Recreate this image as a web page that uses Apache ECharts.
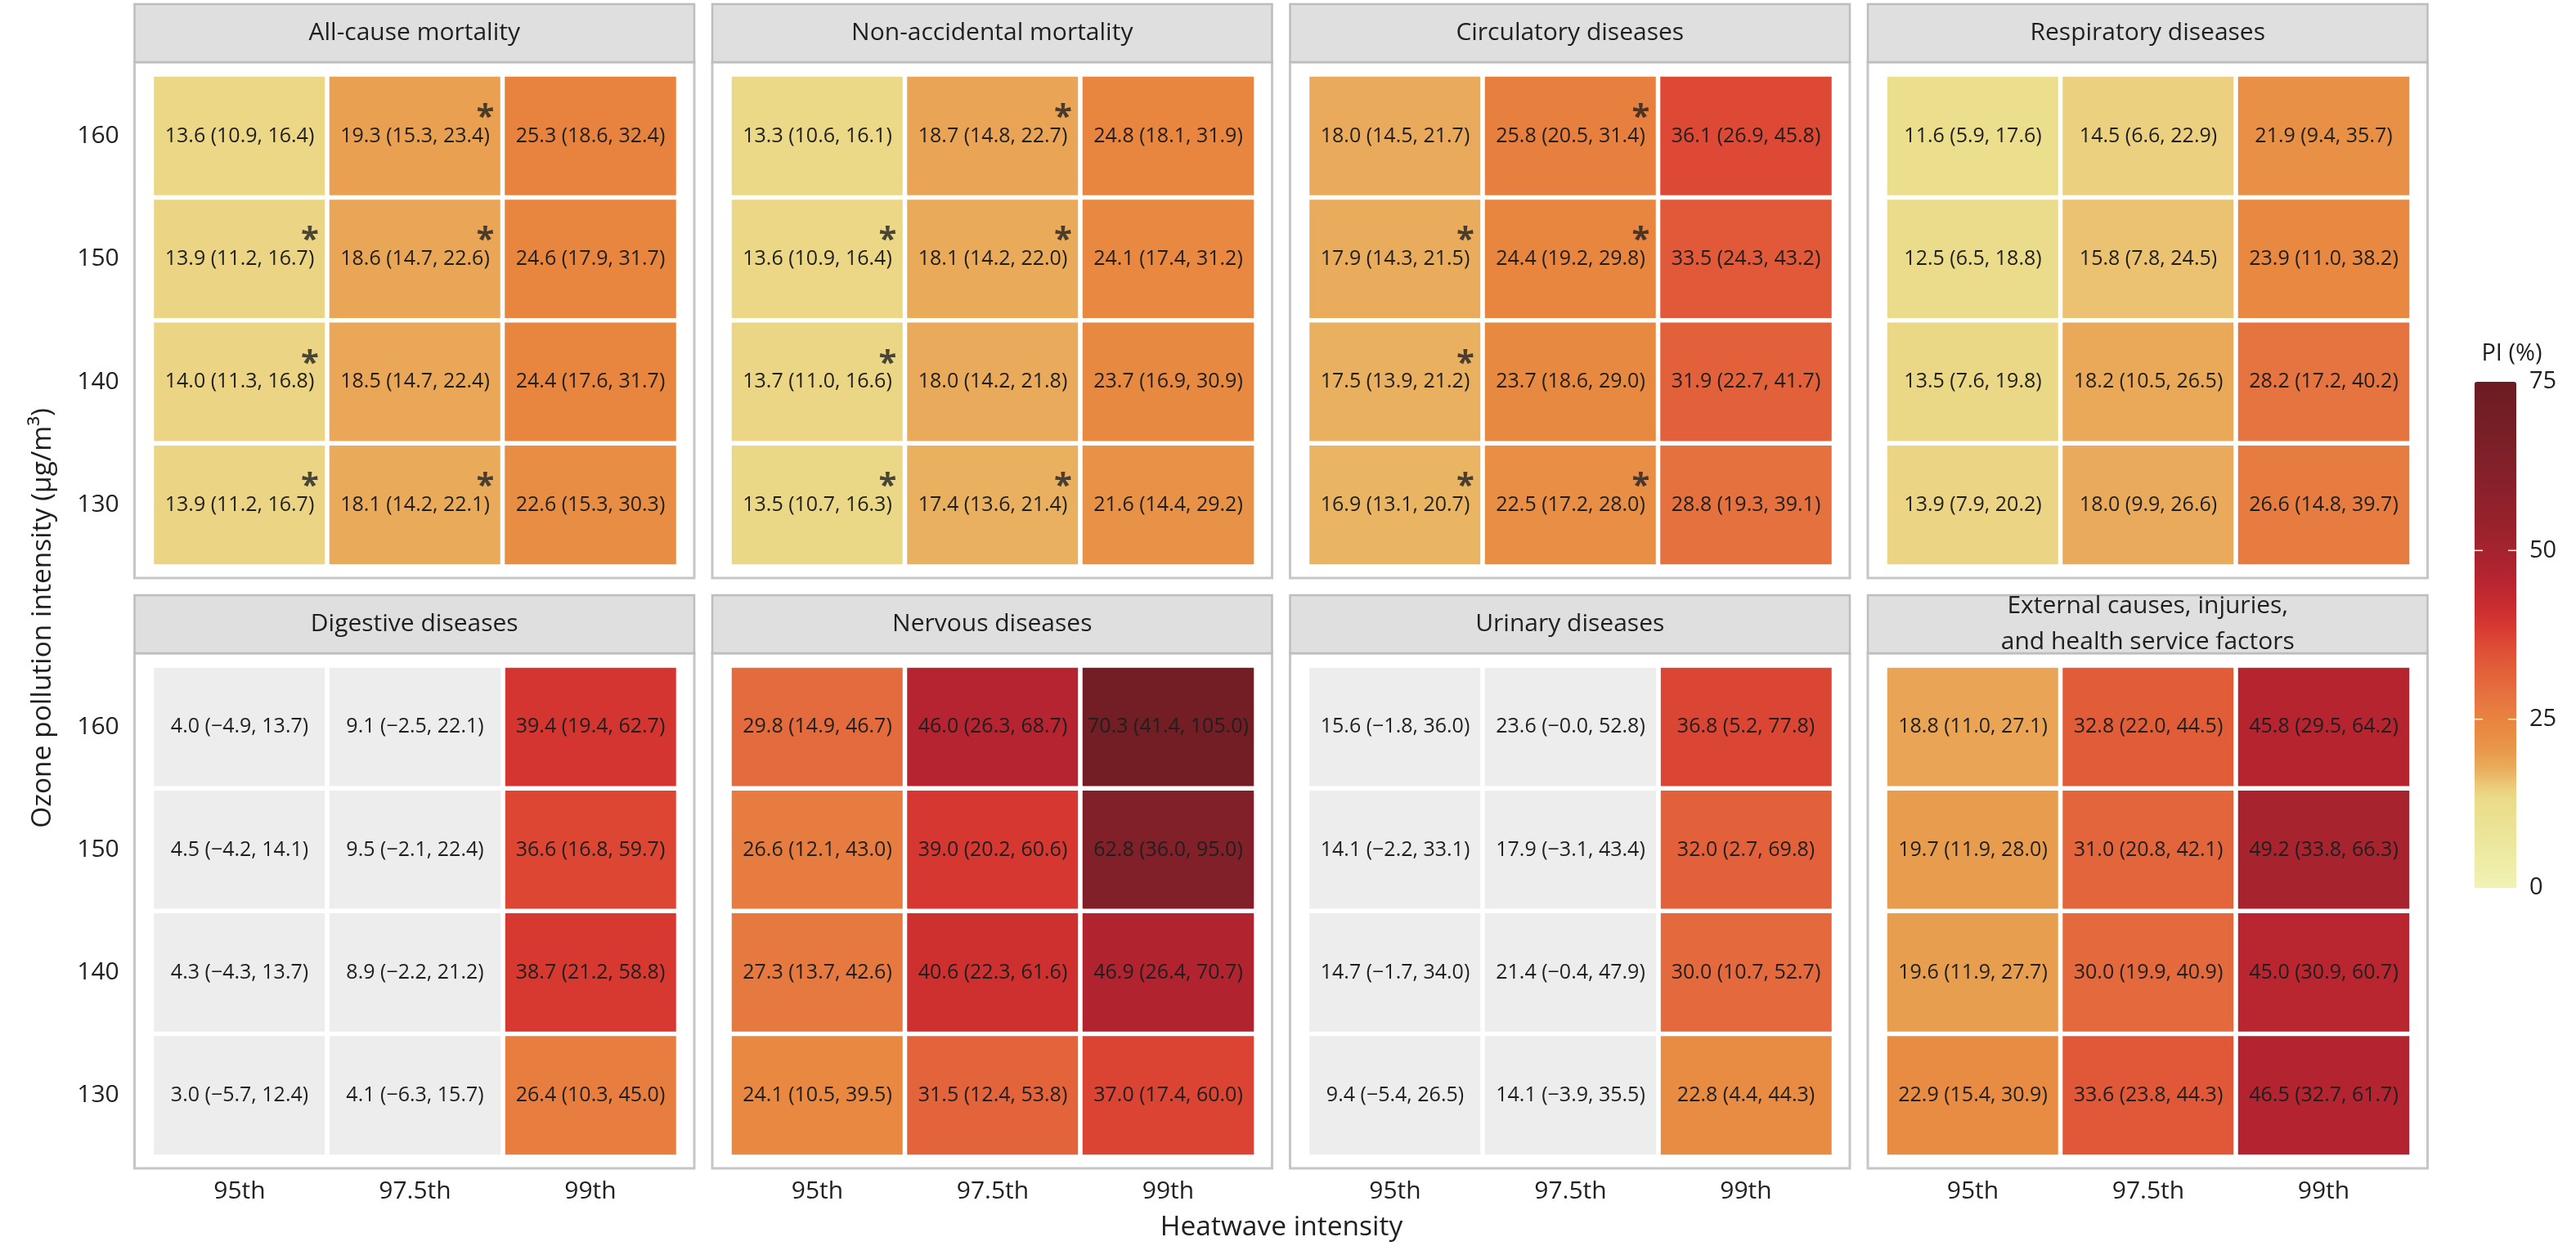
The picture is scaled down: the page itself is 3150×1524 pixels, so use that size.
<!DOCTYPE html>
<html>
<head>
<meta charset="utf-8">
<script src="https://cdn.jsdelivr.net/npm/echarts@6/dist/echarts.min.js"></script>
<style>
  html, body { margin: 0; padding: 0; background: #fff; }
  #chart { width: 3150px; height: 1524px; }
</style>
</head>
<body>
<div id="chart"></div>
<script>
// 坐标轴分类
const heatwave = ['95th', '97.5th', '99th'];
const ozone = ['130', '140', '150', '160'];
const legendTicks = [0, 25, 50, 75];

// 每个面板: 行 = 160, 150, 140, 130 (从上到下); 列 = 95th, 97.5th, 99th
const allCausePI = [[13.6, 19.3, 25.3], [13.9, 18.6, 24.6], [14.0, 18.5, 24.4], [13.9, 18.1, 22.6]];
const allCauseLo = [[10.9, 15.3, 18.6], [11.2, 14.7, 17.9], [11.3, 14.7, 17.6], [11.2, 14.2, 15.3]];
const allCauseHi = [[16.4, 23.4, 32.4], [16.7, 22.6, 31.7], [16.8, 22.4, 31.7], [16.7, 22.1, 30.3]];
const allCauseStar = [[0, 1, 0], [1, 1, 0], [1, 0, 0], [1, 1, 0]];

const nonAccPI = [[13.3, 18.7, 24.8], [13.6, 18.1, 24.1], [13.7, 18.0, 23.7], [13.5, 17.4, 21.6]];
const nonAccLo = [[10.6, 14.8, 18.1], [10.9, 14.2, 17.4], [11.0, 14.2, 16.9], [10.7, 13.6, 14.4]];
const nonAccHi = [[16.1, 22.7, 31.9], [16.4, 22.0, 31.2], [16.6, 21.8, 30.9], [16.3, 21.4, 29.2]];
const nonAccStar = [[0, 1, 0], [1, 1, 0], [1, 0, 0], [1, 1, 0]];

const circPI = [[18.0, 25.8, 36.1], [17.9, 24.4, 33.5], [17.5, 23.7, 31.9], [16.9, 22.5, 28.8]];
const circLo = [[14.5, 20.5, 26.9], [14.3, 19.2, 24.3], [13.9, 18.6, 22.7], [13.1, 17.2, 19.3]];
const circHi = [[21.7, 31.4, 45.8], [21.5, 29.8, 43.2], [21.2, 29.0, 41.7], [20.7, 28.0, 39.1]];
const circStar = [[0, 1, 0], [1, 1, 0], [1, 0, 0], [1, 1, 0]];

const respPI = [[11.6, 14.5, 21.9], [12.5, 15.8, 23.9], [13.5, 18.2, 28.2], [13.9, 18.0, 26.6]];
const respLo = [[5.9, 6.6, 9.4], [6.5, 7.8, 11.0], [7.6, 10.5, 17.2], [7.9, 9.9, 14.8]];
const respHi = [[17.6, 22.9, 35.7], [18.8, 24.5, 38.2], [19.8, 26.5, 40.2], [20.2, 26.6, 39.7]];
const respStar = [[0, 0, 0], [0, 0, 0], [0, 0, 0], [0, 0, 0]];

const digPI = [[4.0, 9.1, 39.4], [4.5, 9.5, 36.6], [4.3, 8.9, 38.7], [3.0, 4.1, 26.4]];
const digLo = [[-4.9, -2.5, 19.4], [-4.2, -2.1, 16.8], [-4.3, -2.2, 21.2], [-5.7, -6.3, 10.3]];
const digHi = [[13.7, 22.1, 62.7], [14.1, 22.4, 59.7], [13.7, 21.2, 58.8], [12.4, 15.7, 45.0]];
const digStar = [[0, 0, 0], [0, 0, 0], [0, 0, 0], [0, 0, 0]];

const nervPI = [[29.8, 46.0, 70.3], [26.6, 39.0, 62.8], [27.3, 40.6, 46.9], [24.1, 31.5, 37.0]];
const nervLo = [[14.9, 26.3, 41.4], [12.1, 20.2, 36.0], [13.7, 22.3, 26.4], [10.5, 12.4, 17.4]];
const nervHi = [[46.7, 68.7, 105.0], [43.0, 60.6, 95.0], [42.6, 61.6, 70.7], [39.5, 53.8, 60.0]];
const nervStar = [[0, 0, 0], [0, 0, 0], [0, 0, 0], [0, 0, 0]];

const urinPI = [[15.6, 23.6, 36.8], [14.1, 17.9, 32.0], [14.7, 21.4, 30.0], [9.4, 14.1, 22.8]];
const urinLo = [[-1.8, -0.0, 5.2], [-2.2, -3.1, 2.7], [-1.7, -0.4, 10.7], [-5.4, -3.9, 4.4]];
const urinHi = [[36.0, 52.8, 77.8], [33.1, 43.4, 69.8], [34.0, 47.9, 52.7], [26.5, 35.5, 44.3]];
const urinStar = [[0, 0, 0], [0, 0, 0], [0, 0, 0], [0, 0, 0]];

const extPI = [[18.8, 32.8, 45.8], [19.7, 31.0, 49.2], [19.6, 30.0, 45.0], [22.9, 33.6, 46.5]];
const extLo = [[11.0, 22.0, 29.5], [11.9, 20.8, 33.8], [11.9, 19.9, 30.9], [15.4, 23.8, 32.7]];
const extHi = [[27.1, 44.5, 64.2], [28.0, 42.1, 66.3], [27.7, 40.9, 60.7], [30.9, 44.3, 61.7]];
const extStar = [[0, 0, 0], [0, 0, 0], [0, 0, 0], [0, 0, 0]];

const panels = [
  { title: 'All-cause mortality', pi: allCausePI, lo: allCauseLo, hi: allCauseHi, star: allCauseStar },
  { title: 'Non-accidental mortality', pi: nonAccPI, lo: nonAccLo, hi: nonAccHi, star: nonAccStar },
  { title: 'Circulatory diseases', pi: circPI, lo: circLo, hi: circHi, star: circStar },
  { title: 'Respiratory diseases', pi: respPI, lo: respLo, hi: respHi, star: respStar },
  { title: 'Digestive diseases', pi: digPI, lo: digLo, hi: digHi, star: digStar },
  { title: 'Nervous diseases', pi: nervPI, lo: nervLo, hi: nervHi, star: nervStar },
  { title: 'Urinary diseases', pi: urinPI, lo: urinLo, hi: urinHi, star: urinStar },
  { title: 'External causes, injuries,\nand health service factors', pi: extPI, lo: extLo, hi: extHi, star: extStar }
];

// 色带节点
const colorStops = [
  [0, '#eff3b3'], [8, '#ece498'], [13, '#ebdb89'], [15, '#ebcc7c'], [17, '#e9b462'],
  [18.5, '#e9a757'], [20, '#e89b4c'], [22.5, '#e88d44'], [25, '#e8843f'], [28, '#e57540'],
  [30, '#e46a3d'], [33, '#e15c38'], [36.5, '#dc4733'], [39, '#d63731'], [41, '#cc2e2f'],
  [46, '#b52430'], [49, '#a8232e'], [55, '#95212b'], [62, '#83202a'], [70, '#731e24'], [75, '#6b1c22']
];

function hexToRgb(h) {
  return [parseInt(h.slice(1, 3), 16), parseInt(h.slice(3, 5), 16), parseInt(h.slice(5, 7), 16)];
}
function buildPalette() {
  const out = [];
  for (let v = 0; v <= 75; v++) {
    let k = 0;
    while (k < colorStops.length - 2 && colorStops[k + 1][0] < v) k++;
    const [v0, c0] = colorStops[k];
    const [v1, c1] = colorStops[k + 1];
    const t = Math.min(1, Math.max(0, (v - v0) / (v1 - v0)));
    const a = hexToRgb(c0), b = hexToRgb(c1);
    out.push('rgb(' + a.map((x, i) => Math.round(x + (b[i] - x) * t)).join(',') + ')');
  }
  return out;
}

function fmt(v) {
  const neg = v < 0 || Object.is(v, -0);
  return (neg ? '\u2212' : '') + Math.abs(v).toFixed(1);
}

// 布局
const FONT = "'Open Sans', 'Noto Sans', sans-serif";
const TEXT = '#1f1f1f';
const BOX_LEFT0 = 164.5, BOX_PITCH = 706.5, BOX_W = 684.5;
const CELL_INSET = 24, CELLS_W = 638, GAP = 5.5;
const rowLayout = [
  { head: 5, box: 76, boxB: 707, cellT: 94, cellB: 690 },
  { head: 728, box: 799, boxB: 1429, cellT: 817, cellB: 1412 }
];

const grids = [], xAxes = [], yAxes = [], series = [], graphics = [], sigIdx = [];

panels.forEach((p, i) => {
  const col = i % 4, row = Math.floor(i / 4);
  const L = rowLayout[row];
  const boxLeft = BOX_LEFT0 + col * BOX_PITCH;

  // 面板外框和标题条
  graphics.push({
    type: 'rect', z: 0,
    shape: { x: boxLeft, y: L.box, width: BOX_W, height: L.boxB - L.box },
    style: { fill: '#fff', stroke: '#c6c6c6', lineWidth: 3 }
  });
  graphics.push({
    type: 'rect', z: 0,
    shape: { x: boxLeft, y: L.head, width: BOX_W, height: L.box - L.head },
    style: { fill: '#dfdfdf', stroke: '#bdbdbd', lineWidth: 2.5 }
  });
  graphics.push({
    type: 'text', z: 1,
    x: boxLeft + BOX_W / 2, y: (L.head + L.box) / 2,
    style: { text: p.title, fontSize: 30, fontFamily: FONT, fill: TEXT, align: 'center', verticalAlign: 'middle', lineHeight: 44 }
  });

  grids.push({
    left: boxLeft + CELL_INSET - GAP / 2,
    top: L.cellT - GAP / 2,
    width: CELLS_W + GAP,
    height: L.cellB - L.cellT + GAP,
    containLabel: false
  });
  xAxes.push({
    type: 'category', gridIndex: i, data: heatwave,
    axisLine: { show: false }, axisTick: { show: false }, splitLine: { show: false },
    axisLabel: { show: row === 1, fontSize: 30, fontFamily: FONT, color: TEXT, margin: 28 }
  });
  yAxes.push({
    type: 'category', gridIndex: i, data: ozone,
    axisLine: { show: false }, axisTick: { show: false }, splitLine: { show: false },
    axisLabel: { show: col === 0, fontSize: 30, fontFamily: FONT, color: TEXT, margin: 40 }
  });

  const sig = [], ns = [], stars = [];
  p.pi.forEach((r, ri) => r.forEach((v, ci) => {
    const yIdx = ozone.length - 1 - ri;
    const item = { value: [ci, yIdx, v], lo: p.lo[ri][ci], hi: p.hi[ri][ci] };
    (p.lo[ri][ci] > 0 ? sig : ns).push(item);
    if (p.star[ri][ci]) stars.push([ci, yIdx]);
  }));

  const cellLabel = {
    show: true, fontSize: 25, fontFamily: FONT, color: TEXT,
    formatter: d => d.data.value[2].toFixed(1) + ' (' + fmt(d.data.lo) + ', ' + fmt(d.data.hi) + ')'
  };
  sigIdx.push(series.length);
  series.push({
    type: 'heatmap', xAxisIndex: i, yAxisIndex: i, data: sig,
    itemStyle: { borderColor: '#fff', borderWidth: GAP },
    label: cellLabel, emphasis: { disabled: true }
  });
  series.push({
    type: 'heatmap', xAxisIndex: i, yAxisIndex: i, data: ns,
    itemStyle: { color: '#ededed', borderColor: '#fff', borderWidth: GAP },
    label: cellLabel, emphasis: { disabled: true }
  });
  // 显著性星号
  series.push({
    type: 'scatter', xAxisIndex: i, yAxisIndex: i, data: stars,
    symbolSize: 1, itemStyle: { color: 'rgba(0,0,0,0)' }, z: 5,
    label: {
      show: true, formatter: '*', position: 'inside', offset: [86, -22],
      fontSize: 40, fontWeight: 'bold', fontFamily: FONT, color: '#222'
    },
    emphasis: { disabled: true }
  });
});

// 图例
const BAR_LEFT = 3026, BAR_TOP = 467, BAR_W = 51, BAR_H = 619, LEG_MAX = 75;
graphics.push({
  type: 'text', x: BAR_LEFT + BAR_W / 2 + 20, y: 433,
  style: { text: 'PI (%)', fontSize: 29, fontFamily: FONT, fill: TEXT, align: 'center', verticalAlign: 'middle' }
});
legendTicks.forEach(t => {
  const y = BAR_TOP + BAR_H * (1 - t / LEG_MAX);
  graphics.push({
    type: 'text', x: BAR_LEFT + BAR_W + 16, y: y,
    style: { text: String(t), fontSize: 29, fontFamily: FONT, fill: TEXT, align: 'left', verticalAlign: 'middle' }
  });
  if (t > 0 && t < LEG_MAX) {
    graphics.push({ type: 'line', z: 100, shape: { x1: BAR_LEFT, y1: y, x2: BAR_LEFT + 10, y2: y }, style: { stroke: '#fff', lineWidth: 1.5 } });
    graphics.push({ type: 'line', z: 100, shape: { x1: BAR_LEFT + BAR_W - 10, y1: y, x2: BAR_LEFT + BAR_W, y2: y }, style: { stroke: '#fff', lineWidth: 1.5 } });
  }
});

// 坐标轴标题
graphics.push({
  type: 'text', x: 1567, y: 1501,
  style: { text: 'Heatwave intensity', fontSize: 33.5, fontFamily: FONT, fill: TEXT, align: 'center', verticalAlign: 'middle' }
});
graphics.push({
  type: 'text', x: 52, y: 756, rotation: Math.PI / 2,
  style: { text: 'Ozone pollution intensity (\u03bcg/m\u00b3)', fontSize: 33.5, fontFamily: FONT, fill: TEXT, align: 'center', verticalAlign: 'middle' }
});

const chart = echarts.init(document.getElementById('chart'));
chart.setOption({
  animation: false,
  backgroundColor: '#fff',
  grid: grids,
  xAxis: xAxes,
  yAxis: yAxes,
  visualMap: {
    type: 'continuous',
    min: 0, max: LEG_MAX,
    seriesIndex: sigIdx,
    dimension: 2,
    orient: 'vertical',
    left: BAR_LEFT, top: BAR_TOP,
    itemWidth: BAR_W, itemHeight: BAR_H,
    padding: 0,
    calculable: false,
    hoverLink: false,
    text: null,
    showLabel: false,
    inRange: { color: buildPalette() }
  },
  graphic: { elements: graphics },
  series: series
});
</script>
</body>
</html>
